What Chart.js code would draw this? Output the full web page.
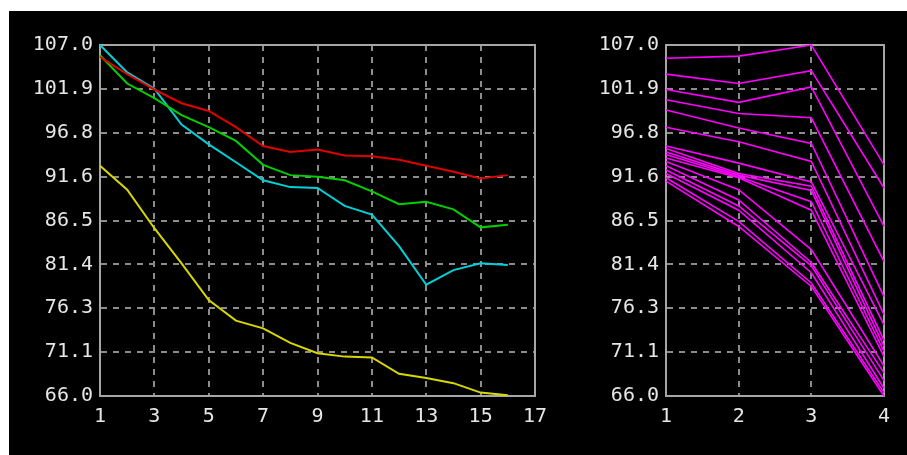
<!DOCTYPE html>
<html>
<head>
<meta charset="utf-8">
<script src="https://cdn.jsdelivr.net/npm/chart.js@4/dist/chart.umd.min.js"></script>
<style>
  html, body { margin: 0; padding: 0; background: #ffffff; }
  body { width: 907px; height: 455px; position: relative; overflow: hidden; }
  #panel { position: absolute; left: 9px; top: 11px; width: 898px; height: 444px; background: #000000; }
  canvas { position: absolute; top: 11px; }
  #c1 { left: 9px; }
  #c2 { left: 585px; }
</style>
</head>
<body>
<div id="panel"></div>
<canvas id="c1" width="560" height="444"></canvas>
<canvas id="c2" width="322" height="444"></canvas>
<script>
// Shared value axis
const yTickLabels = ['66.0', '71.1', '76.3', '81.4', '86.5', '91.6', '96.8', '101.9', '107.0'];
const yMin = 66.0;
const yMax = 107.0;

// Left panel: four series over 16 steps
const leftSteps = [1, 2, 3, 4, 5, 6, 7, 8, 9, 10, 11, 12, 13, 14, 15, 16];
const redSeries    = [105.6, 103.6, 101.8, 100.2, 99.3, 97.4, 95.2, 94.5, 94.8, 94.1, 94.0, 93.6, 92.9, 92.2, 91.4, 91.8];
const greenSeries  = [105.8, 102.5, 100.8, 98.8, 97.4, 95.8, 93.0, 91.8, 91.6, 91.2, 89.9, 88.4, 88.7, 87.8, 85.7, 86.0];
const cyanSeries   = [107.0, 103.8, 101.9, 97.7, 95.4, 93.3, 91.2, 90.4, 90.3, 88.2, 87.2, 83.5, 79.0, 80.7, 81.5, 81.3];
const yellowSeries = [92.9, 90.1, 85.6, 81.5, 77.2, 74.8, 73.9, 72.2, 71.0, 70.6, 70.5, 68.6, 68.1, 67.5, 66.4, 66.1];
const leftXTicks = [1, 3, 5, 7, 9, 11, 13, 15, 17];

// Right panel: 17 traces over 4 steps, one array per step
const rightSteps = [1, 2, 3, 4];
const step1 = [105.45, 103.6, 101.8, 100.6, 99.4, 97.4, 95.2, 94.9, 94.5, 94.2, 93.8, 93.4, 92.9, 92.4, 92.0, 91.5, 91.1];
const step2 = [105.7, 102.5, 100.3, 99.0, 97.3, 95.7, 93.2, 92.0, 91.8, 91.6, 91.5, 90.1, 88.9, 88.2, 87.7, 86.4, 85.8];
const step3 = [107.0, 104.0, 102.1, 98.5, 95.5, 93.4, 91.0, 90.5, 90.0, 88.7, 87.7, 83.1, 81.6, 81.2, 80.4, 79.2, 78.8];
const step4 = [93.0, 90.3, 85.8, 81.7, 77.6, 75.5, 74.3, 72.5, 71.8, 71.2, 70.6, 69.5, 68.7, 67.8, 66.9, 66.4, 66.0];
const rightXTicks = [1, 2, 3, 4];

const TICK_COLOR = '#e6e6e6';
const GRID_COLOR = '#8c8c8c';
const FRAME_COLOR = '#a6a6a6';
const FONT = { family: 'DejaVu Sans Mono', size: 20 };

// Solid frame around the plotting area
const framePlugin = {
  id: 'frame',
  beforeDatasetsDraw(chart) {
    const { ctx, chartArea: a } = chart;
    ctx.save();
    ctx.strokeStyle = FRAME_COLOR;
    ctx.lineWidth = 2;
    ctx.setLineDash([]);
    ctx.strokeRect(a.left, a.top, a.right - a.left, a.bottom - a.top);
    ctx.restore();
  }
};

function toPoints(xs, ys) {
  return xs.map((x, i) => ({ x: x, y: ys[i] }));
}

function line(xs, ys, color, width) {
  return {
    data: toPoints(xs, ys),
    borderColor: color,
    borderWidth: width,
    pointRadius: 0,
    tension: 0,
    fill: false,
    clip: false
  };
}

function buildOptions(xTicks, yAxisWidth, padRight) {
  return {
    responsive: false,
    animation: false,
    devicePixelRatio: 1,
    layout: { padding: { top: 34, right: padRight, left: 0, bottom: 0 } },
    plugins: { legend: { display: false }, tooltip: { enabled: false } },
    scales: {
      x: {
        type: 'linear',
        min: xTicks[0],
        max: xTicks[xTicks.length - 1],
        afterBuildTicks(scale) { scale.ticks = xTicks.map(v => ({ value: v })); },
        afterFit(scale) { scale.height = 59; },
        ticks: { color: TICK_COLOR, font: FONT, padding: 9, maxRotation: 0, autoSkip: false,
                 callback: (v) => String(v) },
        grid: { color: GRID_COLOR, lineWidth: 2, drawTicks: false },
        border: { display: true, color: FRAME_COLOR, width: 2, dash: [6, 6] }
      },
      y: {
        type: 'linear',
        min: yMin,
        max: yMax,
        afterBuildTicks(scale) {
          const n = yTickLabels.length;
          scale.ticks = yTickLabels.map((_, i) => ({ value: yMin + i * (yMax - yMin) / (n - 1) }));
        },
        afterFit(scale) { scale.width = yAxisWidth; },
        ticks: { color: TICK_COLOR, font: FONT, padding: 7, autoSkip: false,
                 callback: (v, i) => yTickLabels[i] },
        grid: { color: GRID_COLOR, lineWidth: 2, drawTicks: false },
        border: { display: true, color: FRAME_COLOR, width: 2, dash: [6, 6] }
      }
    }
  };
}

new Chart(document.getElementById('c1'), {
  type: 'line',
  data: {
    datasets: [
      line(leftSteps, yellowSeries, '#d8d800', 2),
      line(leftSteps, redSeries, '#e00000', 2),
      line(leftSteps, greenSeries, '#00d000', 2),
      line(leftSteps, cyanSeries, '#00d0d8', 2)
    ]
  },
  options: buildOptions(leftXTicks, 91, 34),
  plugins: [framePlugin]
});

const traces = step1.map((_, k) => [step1[k], step2[k], step3[k], step4[k]]);
new Chart(document.getElementById('c2'), {
  type: 'line',
  data: {
    datasets: traces.map(vals => line(rightSteps, vals, '#ff00ff', 1.6))
  },
  options: buildOptions(rightXTicks, 81, 23),
  plugins: [framePlugin]
});
</script>
</body>
</html>
